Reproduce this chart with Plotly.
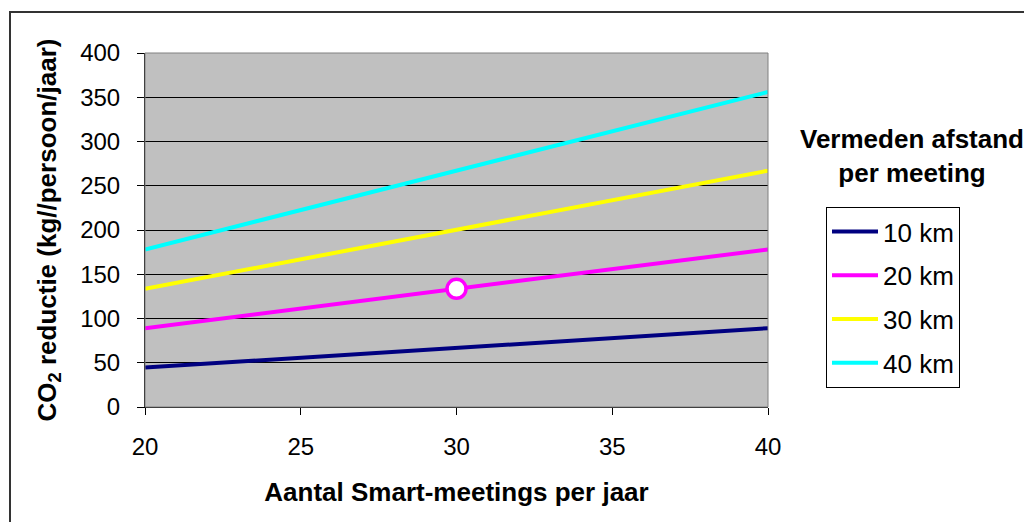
import plotly.graph_objects as go

meetings = [20, 25, 30, 35, 40]
km_10 = [44.5, 55.6, 66.8, 77.9, 89.0]
km_20 = [89.0, 111.3, 133.5, 155.8, 178.0]
km_30 = [133.5, 166.9, 200.3, 233.6, 267.0]
km_40 = [178.0, 222.5, 267.0, 311.5, 356.0]
series_names = ["10 km", "20 km", "30 km", "40 km"]
series_values = [km_10, km_20, km_30, km_40]
series_colors = ["#000080", "#FF00FF", "#FFFF00", "#00FFFF"]
highlight_x = [30]
highlight_y = [133.5]

FONT = "Liberation Sans, Arial, sans-serif"

fig = go.Figure()
for i, (name, vals, col) in enumerate(zip(series_names, series_values, series_colors)):
    fig.add_trace(go.Scatter(
        x=meetings, y=vals, mode="lines", name=name,
        line=dict(color=col, width=4), legendgroup=f"g{i}",
    ))

fig.add_trace(go.Scatter(
    x=highlight_x, y=highlight_y, mode="markers", showlegend=False,
    marker=dict(symbol="circle", size=19, color="white",
                line=dict(color="#FF00FF", width=3.5)),
))

OFF = 8  # page body margin
W, H = 1032 - OFF, 522 - OFF
L, R, T, B = 145 - OFF, 768 - OFF, 53 - OFF, 407 - OFF
pw, ph = R - L, B - T

def px(x):
    return (x - OFF - L) / pw

def py(y):
    return (B - (y - OFF)) / ph

fig.update_layout(
    width=W, height=H,
    margin=dict(l=L, r=W - R, t=T, b=H - B, autoexpand=False),
    paper_bgcolor="white",
    plot_bgcolor="#C0C0C0",
    font=dict(family=FONT, size=24, color="black"),
    showlegend=True,
    legend=dict(
        x=px(826), y=py(207), xanchor="left", yanchor="top",
        bgcolor="white", bordercolor="#000000", borderwidth=1,
        font=dict(family=FONT, size=26, color="black"),
        itemwidth=46, tracegroupgap=7, traceorder="grouped",
    ),
    xaxis=dict(
        range=[20, 40], tickvals=meetings, showgrid=False,
        showline=True, linecolor="black", linewidth=1,
        ticks="outside", ticklen=7, tickcolor="black",
        ticklabelstandoff=11,
        tickfont=dict(family=FONT, size=24),
        zeroline=False,
        title=dict(text="<b>Aantal Smart-meetings per jaar</b>",
                   font=dict(family=FONT, size=26), standoff=24),
    ),
    yaxis=dict(
        range=[0, 400], dtick=50, showgrid=True, gridcolor="black", gridwidth=1,
        showline=True, linecolor="black", linewidth=1,
        ticks="outside", ticklen=7, tickcolor="black",
        ticklabelstandoff=12,
        tickfont=dict(family=FONT, size=24),
        zeroline=False,
        title=dict(text="<b>CO<sub>2</sub> reductie (kg//persoon/jaar)</b>",
                   font=dict(family=FONT, size=26), standoff=16),
    ),
    annotations=[dict(
        text="<b>Vermeden afstand<br>per meeting</b>",
        xref="paper", yref="paper", x=px(912), y=py(156),
        xanchor="center", yanchor="middle", showarrow=False,
        font=dict(family=FONT, size=26, color="black"), align="center",
    )],
    shapes=[
        dict(type="rect", xref="paper", yref="paper", x0=0, x1=1, y0=0, y1=1,
             line=dict(color="#808080", width=1), fillcolor="rgba(0,0,0,0)", layer="above"),
        dict(type="path", xref="paper", yref="paper",
             path=f"M {px(10)},{py(530)} L {px(10)},{py(12)} L {px(1040)},{py(12)}",
             line=dict(color="#333333", width=2)),
    ],
)

fig.write_html("out.html")
